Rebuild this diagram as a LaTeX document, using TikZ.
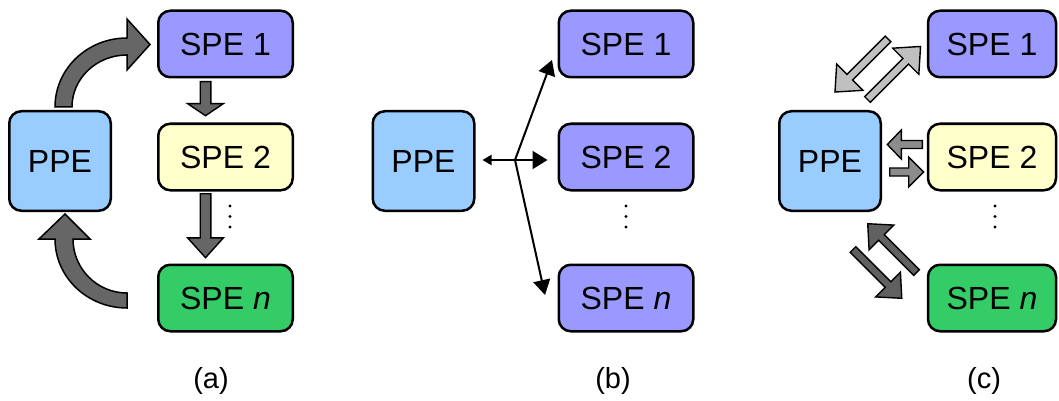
\documentclass[tikz,border=0pt]{standalone}
\usepackage{fontspec}
\setmainfont{Liberation Sans}
\usetikzlibrary{arrows.meta,shapes.arrows}
\definecolor{ppecol}{HTML}{99CCFF}
\definecolor{spepurple}{HTML}{9999FF}
\definecolor{speyellow}{HTML}{FFFFCC}
\definecolor{spegreen}{HTML}{33CC66}
\definecolor{flowgray}{HTML}{666666}
\definecolor{msglight}{HTML}{C0C0C0}
\definecolor{msgmid}{HTML}{8C8C8C}
\definecolor{msgdark}{HTML}{606060}
\begin{document}
\begin{tikzpicture}[x=1pt,y=-1pt,
  pebox/.style={draw=black, line width=2.5pt, rounded corners=12pt, inner sep=0pt,
    font=\fontsize{32}{36}\selectfont},
  ppebox/.style={pebox, fill=ppecol, minimum width=101.5pt, minimum height=99.5pt},
  spebox/.style={pebox, minimum width=134.5pt, minimum height=66.5pt},
  fatflow/.style={draw=black, line width=1.5pt, fill=flowgray, line join=miter},
  fatarrow/.style={single arrow, draw=black, line width=1.4pt, anchor=tail,
    inner xsep=0pt, inner ysep=3.3pt, line join=miter},
  thinlink/.style={line width=2pt, draw=black},
  caption/.style={font=\fontsize{29}{32}\selectfont}]
\useasboundingbox (0,0) rectangle (1059,401);

% ---------- (a) pipeline ----------
\node[ppebox] (ppea) at (60,161) {PPE};
\node[spebox, fill=spepurple] (s1a) at (225.5,44) {SPE 1};
\node[spebox, fill=speyellow] (s2a) at (225.5,157) {SPE 2};
\node[spebox, fill=spegreen] (sna) at (225.5,298) {SPE \textit{n}};

% curved hand-off arrows
\draw[fatflow] (55,107) .. controls (55,68.9) and (87.2,38) .. (127,38)
  -- (127,19) -- (150,44.5) -- (127,70) -- (127,55)
  .. controls (96.6,55) and (72,78.3) .. (72,107) -- cycle;
\draw[fatflow] (127,308) .. controls (87.2,308) and (55,277.1) .. (55,239)
  -- (39,239) -- (65,214) -- (90,239) -- (73,239)
  .. controls (73,268.8) and (97.2,293) .. (127,293) -- cycle;

% stage-to-stage arrows
\node[fatarrow, fill=flowgray, rotate=-90, minimum height=34pt, inner ysep=4.6pt,
  single arrow head extend=12.5pt, single arrow tip angle=112] (a12) at (205.5,81) {};
\node[fatarrow, fill=flowgray, rotate=-90, minimum height=64pt, inner ysep=4.6pt,
  single arrow head extend=12.5pt, single arrow tip angle=84] (a2n) at (205.5,193) {};

\foreach \yy in {206,216.5,227} \fill (230,\yy) circle (1.6);
\node[caption] (capa) at (211,381) {(a)};

% ---------- (b) broadcast ----------
\node[ppebox] (ppeb) at (423.5,161) {PPE};
\node[spebox, fill=spepurple] (s1b) at (626,44) {SPE 1};
\node[spebox, fill=spepurple] (s2b) at (626,157) {SPE 2};
\node[spebox, fill=spepurple] (snb) at (626,298) {SPE \textit{n}};

\coordinate (jb) at (515,160);
\coordinate (tip1b) at (552,60);
\coordinate (tipnb) at (545,295);
\draw[thinlink, -{Triangle[length=9pt,width=10pt]}] (jb) -- ([xshift=7pt]ppeb.east |- jb);
\draw[thinlink, -{Triangle[length=15pt,width=18pt]}] (jb) -- ([xshift=-10pt]s2b.west |- jb);
\draw[thinlink, -{Triangle[length=15pt,width=17pt]}] (jb) -- (tip1b);
\draw[thinlink, -{Triangle[length=15pt,width=17pt]}] (jb) -- (tipnb);

\foreach \yy in {206,216.5,227} \fill (626,\yy) circle (1.6);
\node[caption] (capb) at (613,381) {(b)};

% ---------- (c) pairwise exchange ----------
\node[ppebox] (ppec) at (830,161) {PPE};
\node[spebox, fill=spepurple, minimum width=128pt] (s1c) at (992,44) {SPE 1};
\node[spebox, fill=speyellow, minimum width=128pt] (s2c) at (992,157) {SPE 2};
\node[spebox, fill=spegreen, minimum width=128pt] (snc) at (992,298) {SPE \textit{n}};

\node[fatarrow, fill=msglight, rotate=225, minimum height=75pt,
  single arrow head extend=14.5pt, single arrow tip angle=83] (c1in) at (888.5,38.5) {};
\node[fatarrow, fill=msglight, rotate=45, minimum height=75pt,
  single arrow head extend=14.5pt, single arrow tip angle=83] (c1out) at (867,100) {};
\node[fatarrow, fill=msgmid, rotate=180, minimum height=35pt,
  single arrow head extend=10.5pt, single arrow tip angle=92] (c2in) at (923,144.5) {};
\node[fatarrow, fill=msgmid, rotate=0, minimum height=34pt,
  single arrow head extend=11pt, single arrow tip angle=90] (c2out) at (889,172) {};
\node[fatarrow, fill=msgdark, rotate=135, minimum height=69pt,
  single arrow head extend=13.5pt, single arrow tip angle=84] (cnin) at (917,273) {};
\node[fatarrow, fill=msgdark, rotate=-45, minimum height=69pt,
  single arrow head extend=13.5pt, single arrow tip angle=84] (cnout) at (852.5,249) {};

\foreach \yy in {206,216.5,227} \fill (995,\yy) circle (1.6);
\node[caption] (capc) at (984,381) {(c)};
\end{tikzpicture}
\end{document}
